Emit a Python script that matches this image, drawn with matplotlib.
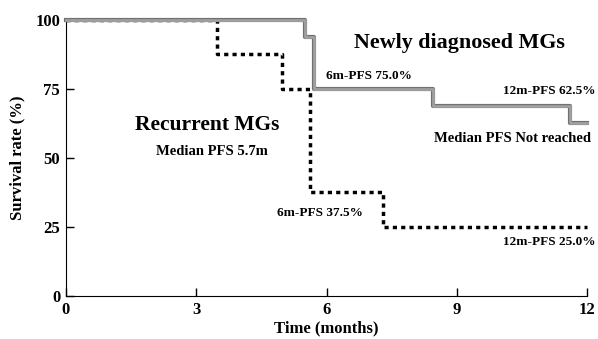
import matplotlib
matplotlib.use("Agg")
import matplotlib.pyplot as plt
import matplotlib.patheffects as pe

plt.rcParams['font.family'] = ['Liberation Serif', 'DejaVu Serif']
plt.rcParams['font.weight'] = 'bold'

# Newly diagnosed MGs (step survival curve)
new_t = [0, 5.5, 5.72, 8.44, 11.6, 12.0]
new_s = [100, 93.75, 75.0, 68.75, 62.5, 62.5]

# Recurrent MGs
rec_t = [0, 3.47, 4.97, 5.63, 7.29, 12.0]
rec_s = [100, 87.5, 75.0, 37.5, 25.0, 25.0]

x_ticks = [0, 3, 6, 9, 12]
y_ticks = [0, 25, 50, 75, 100]

fig = plt.figure(figsize=(5.98, 3.39), dpi=100)
ax = fig.add_axes([0.110, 0.127, 0.872, 0.814])

ax.step(rec_t, rec_s, where='post', color='black', lw=2.5, clip_on=False,
        dashes=(1.2, 1.2), zorder=3)
ax.step(new_t, new_s, where='post', color='#a0a0a0', lw=2.0, clip_on=False, zorder=4,
        path_effects=[pe.Stroke(linewidth=3.0, foreground='#707070'), pe.Normal()])

ax.set_xlim(0, 12)
ax.set_ylim(0, 100)
ax.set_xticks(x_ticks)
ax.set_yticks(y_ticks)
ax.tick_params(direction='in', length=6, width=1, labelsize=12, pad=4)
for lab in ax.get_xticklabels() + ax.get_yticklabels():
    lab.set_fontweight('bold')
ax.spines['top'].set_visible(False)
ax.spines['right'].set_visible(False)
ax.set_xlabel('Time (months)', fontsize=12, fontweight='bold', labelpad=2)
ax.set_ylabel('Survival rate (%)', fontsize=12, fontweight='bold', labelpad=7)

ax.text(9.07, 91.7, 'Newly diagnosed MGs', fontsize=15.8, fontweight='bold', ha='center', va='center')
ax.text(5.99, 79.7, '6m-PFS 75.0%', fontsize=9.5, fontweight='bold', ha='left', va='center')
ax.text(12.2, 74.3, '12m-PFS 62.5%', fontsize=9.5, fontweight='bold', ha='right', va='center', clip_on=False)
ax.text(10.27, 56.9, 'Median PFS Not reached', fontsize=10.5, fontweight='bold', ha='center', va='center')
ax.text(3.26, 62.0, 'Recurrent MGs', fontsize=15.5, fontweight='bold', ha='center', va='center')
ax.text(3.37, 52.2, 'Median PFS 5.7m', fontsize=10.5, fontweight='bold', ha='center', va='center')
ax.text(4.86, 30.1, '6m-PFS 37.5%', fontsize=9.5, fontweight='bold', ha='left', va='center')
ax.text(12.2, 19.6, '12m-PFS 25.0%', fontsize=9.5, fontweight='bold', ha='right', va='center', clip_on=False)

fig.savefig('out.png', dpi=100)
